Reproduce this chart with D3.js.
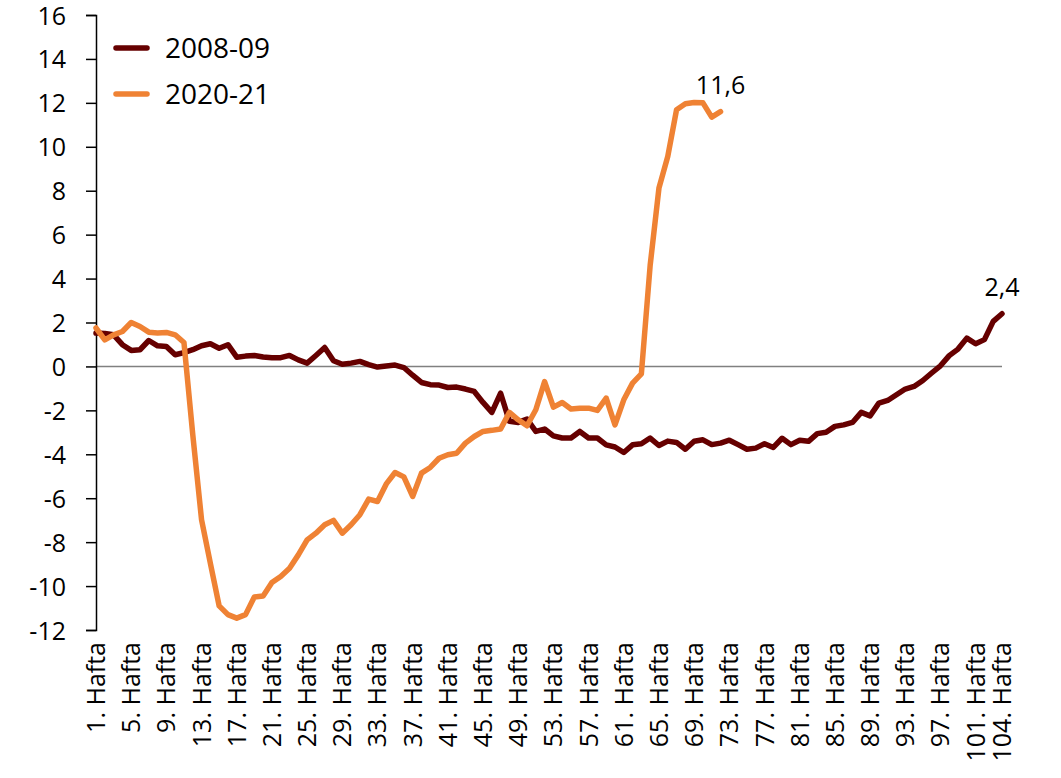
<!DOCTYPE html>
<html>
<head>
<meta charset="utf-8">
<script src="https://cdn.jsdelivr.net/npm/d3@7"></script>
<style>
  body { margin: 0; background: #fff; }
  text { font-family: "Open Sans", sans-serif; fill: #000; }
</style>
</head>
<body>
<div id="chart"></div>
<script>
// weeks 1..104 on the category axis, labels every 4th week plus the last one
var weeks = d3.range(1, 105);
var tickWeeks = [1, 5, 9, 13, 17, 21, 25, 29, 33, 37, 41, 45, 49, 53, 57, 61, 65, 69, 73, 77, 81, 85, 89, 93, 97, 101, 104];
var yTicks = [-12, -10, -8, -6, -4, -2, 0, 2, 4, 6, 8, 10, 12, 14, 16];

var seriesNames = ["2008-09", "2020-21"];

var values0809 = [
  1.52, 1.5, 1.44, 0.99, 0.73, 0.76, 1.18, 0.94, 0.91, 0.53,
  0.63, 0.76, 0.94, 1.03, 0.83, 0.99, 0.42, 0.47, 0.5, 0.43,
  0.4, 0.4, 0.5, 0.3, 0.15, 0.5, 0.86, 0.26, 0.1, 0.15,
  0.23, 0.08, -0.03, 0.02, 0.06, -0.05, -0.4, -0.73, -0.83, -0.85,
  -0.96, -0.94, -1.03, -1.14, -1.64, -2.09, -1.22, -2.5, -2.55, -2.4,
  -2.96, -2.85, -3.16, -3.26, -3.26, -2.96, -3.26, -3.26, -3.57, -3.67,
  -3.92, -3.57, -3.52, -3.26, -3.6, -3.4, -3.46, -3.77, -3.41, -3.34,
  -3.56, -3.49, -3.36, -3.56, -3.77, -3.72, -3.52, -3.69, -3.27, -3.56,
  -3.36, -3.41, -3.06, -3.0, -2.73, -2.66, -2.55, -2.09, -2.25, -1.67,
  -1.55, -1.29, -1.03, -0.91, -0.64, -0.3, 0.03, 0.49, 0.79, 1.29,
  1.03, 1.22, 2.05, 2.4
];

var values2021 = [
  1.75, 1.21, 1.44, 1.59, 2.0, 1.82, 1.56, 1.52, 1.55, 1.44,
  1.09, -3.1, -6.98, -8.96, -10.9, -11.3, -11.46, -11.3, -10.5, -10.45,
  -9.84, -9.56, -9.19, -8.58, -7.9, -7.59, -7.21, -7.01, -7.59, -7.21,
  -6.75, -6.04, -6.15, -5.35, -4.83, -5.03, -5.92, -4.86, -4.6, -4.18,
  -4.02, -3.95, -3.49, -3.19, -2.96, -2.91, -2.85, -2.09, -2.43, -2.7,
  -1.97, -0.69, -1.85, -1.64, -1.94, -1.9, -1.9, -2.0, -1.44, -2.66,
  -1.52, -0.76, -0.34, 4.6, 8.12, 9.56, 11.69, 11.96, 12.02, 12.0,
  11.35, 11.6
];

var endLabels = ["2,4", "11,6"];
var colors = ["#660000", "#ef8234"];

var width = 1061, height = 778;

var svg = d3.select("#chart")
  .append("svg")
  .attr("width", width)
  .attr("height", height);

var x = d3.scalePoint()
  .domain(weeks)
  .range([96, 1002])
  .padding(0);

var y = d3.scaleLinear()
  .domain([-12, 16])
  .range([630, 15]);

// zero line
svg.append("line")
  .attr("x1", x(1)).attr("x2", x(104))
  .attr("y1", y(0)).attr("y2", y(0))
  .attr("stroke", "#808080")
  .attr("stroke-width", 1.5);

// y axis, plain hyphen for negatives like the original
var yAxis = d3.axisLeft(y)
  .tickValues(yTicks)
  .tickSize(10)
  .tickPadding(20)
  .tickFormat(function(d) { return String(d); });

var YAXIS = svg.append("g")
  .attr("transform", "translate(" + x(1) + ",0)")
  .call(yAxis);

YAXIS.select(".domain").attr("stroke", "#000").attr("stroke-width", 1.5);
YAXIS.selectAll(".tick line").attr("stroke", "#000").attr("stroke-width", 1.5);
YAXIS.selectAll(".tick text")
  .style("font-family", "'Open Sans', sans-serif")
  .style("font-size", "25px")
  .attr("dy", "0.36em");

// x labels, rotated, hanging under the plot
var xLabels = svg.append("g");
xLabels.selectAll("text")
  .data(tickWeeks)
  .enter()
  .append("text")
  .attr("transform", function(d) { return "translate(" + (x(d) + 9) + ",642) rotate(-90)"; })
  .attr("text-anchor", "end")
  .style("font-size", "25px")
  .text(function(d) { return d + ". Hafta"; });

// lines
var line = d3.line()
  .x(function(d, i) { return x(weeks[i]); })
  .y(function(d) { return y(d); });

[values0809, values2021].forEach(function(vals, k) {
  svg.append("path")
    .datum(vals)
    .attr("d", line)
    .attr("fill", "none")
    .attr("stroke", colors[k])
    .attr("stroke-width", 5.5)
    .attr("stroke-linejoin", "round")
    .attr("stroke-linecap", "round");

  var last = vals.length - 1;
  svg.append("text")
    .attr("x", x(weeks[last]))
    .attr("y", y(vals[last]) - 18)
    .attr("text-anchor", "middle")
    .style("font-size", "25px")
    .text(endLabels[k]);
});

// legend
var legend = svg.append("g");
seriesNames.forEach(function(name, k) {
  var ly = 48 + k * 46;
  legend.append("line")
    .attr("x1", 116).attr("x2", 147)
    .attr("y1", ly).attr("y2", ly)
    .attr("stroke", colors[k])
    .attr("stroke-width", 5.5)
    .attr("stroke-linecap", "round");
  legend.append("text")
    .attr("x", 165)
    .attr("y", ly)
    .attr("dy", "0.36em")
    .style("font-size", "28px")
    .text(name);
});
</script>
</body>
</html>
